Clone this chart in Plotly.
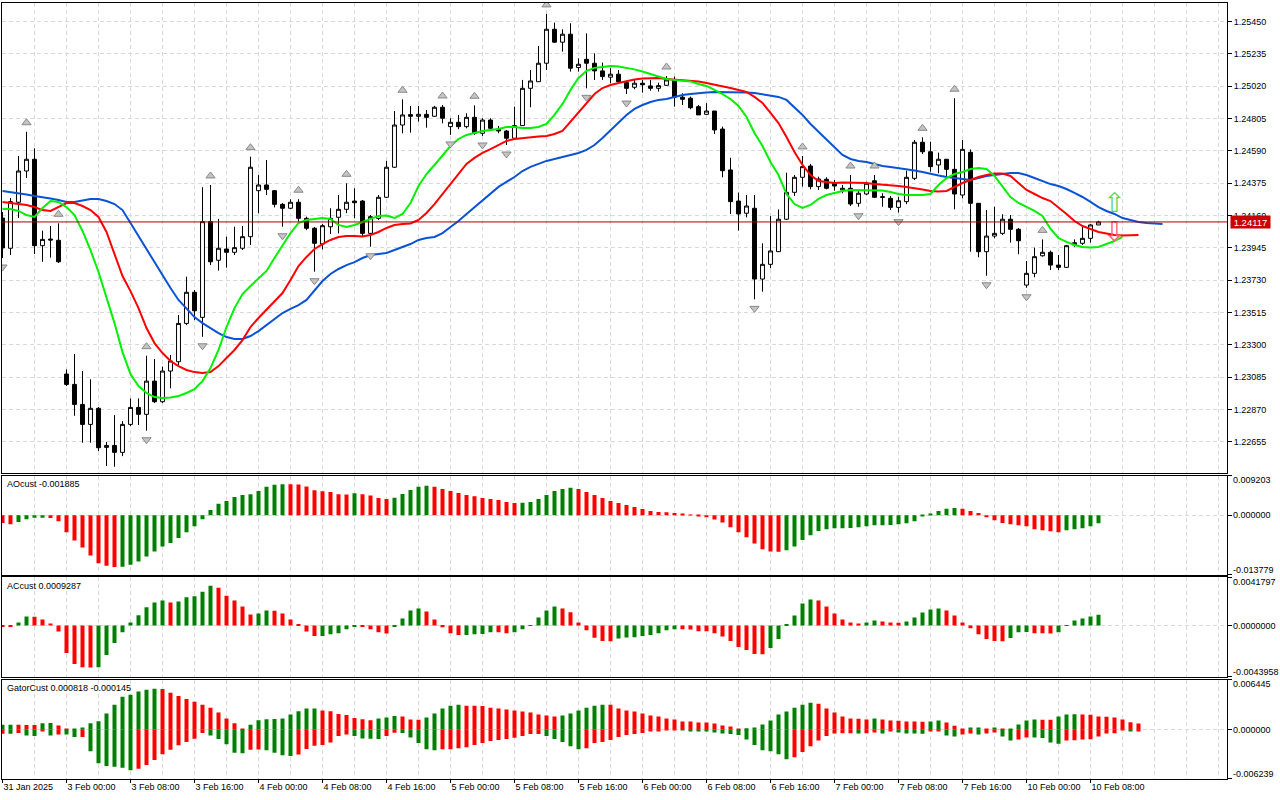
import plotly.graph_objects as go
from plotly.subplots import make_subplots

W, H = 1280, 800
FONT = "Liberation Sans"
GRID = "#d9d9d9"
GREEN = "#008000"
RED = "#ff0000"

# hourly candles, 31 Jan 2025 16:00 .. 10 Feb 2025 09:00
open_ = [
    1.24143, 1.23942, 1.24248, 1.24456, 1.24534, 1.23959, 1.24003, 1.23995, 1.23105, 1.23036,
    1.22903, 1.22770, 1.22877, 1.22617, 1.22630, 1.22584, 1.22770, 1.22883, 1.22837, 1.23058,
    1.22921, 1.23125, 1.23187, 1.23442, 1.23649, 1.23482, 1.24119, 1.23862, 1.23937, 1.23915,
    1.23942, 1.24019, 1.24325, 1.24363, 1.24325, 1.24234, 1.24208, 1.24248, 1.24141, 1.24075,
    1.23970, 1.24085, 1.24148, 1.24201, 1.24256, 1.24256, 1.24041, 1.24141, 1.24281, 1.24481,
    1.24762, 1.24831, 1.24820, 1.24833, 1.24820, 1.24880, 1.24751, 1.24780, 1.24751, 1.24813,
    1.24707, 1.24795, 1.24734, 1.24722, 1.24674, 1.24758, 1.25006, 1.25050, 1.25173, 1.25399,
    1.25313, 1.25366, 1.25144, 1.25199, 1.25173, 1.25122, 1.25080, 1.25100, 1.25044, 1.25013,
    1.25040, 1.25022, 1.25006, 1.25026, 1.25062, 1.24947, 1.24940, 1.24884, 1.24833, 1.24855,
    1.24735, 1.24463, 1.24256, 1.24175, 1.24208, 1.23737, 1.23835, 1.23919, 1.24135, 1.24314,
    1.24414, 1.24489, 1.24352, 1.24401, 1.24374, 1.24330, 1.24341, 1.24241, 1.24303, 1.24391,
    1.24285, 1.24274, 1.24214, 1.24252, 1.24407, 1.24647, 1.24584, 1.24496, 1.24534, 1.24467,
    1.24296, 1.24580, 1.24241, 1.23919, 1.24023, 1.24041, 1.24135, 1.24068, 1.23697, 1.23775,
    1.23892, 1.23915, 1.23830, 1.23815, 1.23964, 1.23975, 1.24008, 1.24097,
]
high_ = [
    1.24183, 1.24276, 1.24556, 1.24717, 1.24607, 1.24059, 1.24090, 1.24108, 1.23136, 1.23238,
    1.23125, 1.23070, 1.22885, 1.22654, 1.22832, 1.22792, 1.22943, 1.22943, 1.23227, 1.23205,
    1.23154, 1.23232, 1.23498, 1.23753, 1.23664, 1.24348, 1.24363, 1.24137, 1.24019, 1.24085,
    1.24090, 1.24551, 1.24429, 1.24529, 1.24330, 1.24243, 1.24268, 1.24268, 1.24152, 1.24083,
    1.24103, 1.24208, 1.24296, 1.24374, 1.24341, 1.24263, 1.24163, 1.24296, 1.24523, 1.24855,
    1.24933, 1.24889, 1.24889, 1.24862, 1.24889, 1.24895, 1.24807, 1.24829, 1.24840, 1.24893,
    1.24807, 1.24807, 1.24756, 1.24729, 1.24884, 1.25062, 1.25128, 1.25288, 1.25501, 1.25443,
    1.25399, 1.25439, 1.25206, 1.25372, 1.25239, 1.25177, 1.25140, 1.25128, 1.25057, 1.25062,
    1.25062, 1.25062, 1.25044, 1.25088, 1.25084, 1.24973, 1.24951, 1.24895, 1.24907, 1.24855,
    1.24751, 1.24544, 1.24312, 1.24296, 1.24296, 1.23975, 1.24157, 1.24201, 1.24445, 1.24429,
    1.24556, 1.24503, 1.24418, 1.24414, 1.24396, 1.24363, 1.24429, 1.24325, 1.24385, 1.24429,
    1.24308, 1.24290, 1.24285, 1.24458, 1.24662, 1.24680, 1.24651, 1.24578, 1.24536, 1.24940,
    1.24662, 1.24600, 1.24241, 1.24196, 1.24218, 1.24168, 1.24163, 1.24077, 1.23857, 1.23946,
    1.24001, 1.23926, 1.23897, 1.23964, 1.24001, 1.24085, 1.24103, 1.24125,
]
low_ = [
    1.23877, 1.23897, 1.24143, 1.24409, 1.23904, 1.23852, 1.23879, 1.23844, 1.23025, 1.22827,
    1.22648, 1.22648, 1.22593, 1.22493, 1.22488, 1.22559, 1.22759, 1.22766, 1.22728, 1.22912,
    1.22912, 1.23010, 1.23165, 1.23431, 1.23464, 1.23353, 1.23830, 1.23793, 1.23813, 1.23897,
    1.23930, 1.23964, 1.24175, 1.24296, 1.24214, 1.24085, 1.24203, 1.24119, 1.24063, 1.23786,
    1.23935, 1.24037, 1.24041, 1.24175, 1.24141, 1.24023, 1.23952, 1.24130, 1.24276, 1.24476,
    1.24707, 1.24711, 1.24784, 1.24744, 1.24817, 1.24773, 1.24696, 1.24734, 1.24740, 1.24696,
    1.24689, 1.24734, 1.24707, 1.24629, 1.24669, 1.24756, 1.24880, 1.25048, 1.25128, 1.25308,
    1.25250, 1.25117, 1.25117, 1.25006, 1.25062, 1.25062, 1.25040, 1.25044, 1.24968, 1.25000,
    1.24977, 1.24990, 1.24984, 1.25022, 1.24884, 1.24895, 1.24867, 1.24829, 1.24829, 1.24702,
    1.24414, 1.24170, 1.24059, 1.24148, 1.23602, 1.23653, 1.23809, 1.23917, 1.24130, 1.24290,
    1.24352, 1.24334, 1.24330, 1.24334, 1.24325, 1.24308, 1.24223, 1.24218, 1.24296, 1.24276,
    1.24218, 1.24196, 1.24179, 1.24236, 1.24396, 1.24569, 1.24451, 1.24441, 1.24414, 1.24201,
    1.24274, 1.23919, 1.23882, 1.23759, 1.24008, 1.24030, 1.23979, 1.23902, 1.23679, 1.23749,
    1.23886, 1.23797, 1.23797, 1.23811, 1.23952, 1.23964, 1.23979, 1.24097,
]
close_ = [
    1.23944, 1.24252, 1.24456, 1.24534, 1.23959, 1.24001, 1.23997, 1.23852, 1.23036, 1.22903,
    1.22770, 1.22877, 1.22615, 1.22630, 1.22584, 1.22770, 1.22883, 1.22837, 1.23058, 1.22921,
    1.23125, 1.23192, 1.23442, 1.23649, 1.23526, 1.24119, 1.23852, 1.23942, 1.23915, 1.23946,
    1.24019, 1.24481, 1.24363, 1.24334, 1.24234, 1.24208, 1.24248, 1.24141, 1.24075, 1.23975,
    1.24092, 1.24141, 1.24201, 1.24248, 1.24245, 1.24041, 1.24152, 1.24281, 1.24481, 1.24762,
    1.24829, 1.24820, 1.24833, 1.24813, 1.24880, 1.24807, 1.24780, 1.24751, 1.24813, 1.24707,
    1.24795, 1.24740, 1.24722, 1.24674, 1.24758, 1.25006, 1.25055, 1.25173, 1.25399, 1.25313,
    1.25366, 1.25140, 1.25166, 1.25173, 1.25122, 1.25084, 1.25100, 1.25050, 1.25006, 1.25040,
    1.25030, 1.25006, 1.25024, 1.25062, 1.24947, 1.24933, 1.24877, 1.24829, 1.24855, 1.24729,
    1.24458, 1.24252, 1.24170, 1.24223, 1.23737, 1.23835, 1.23924, 1.24135, 1.24314, 1.24414,
    1.24485, 1.24352, 1.24403, 1.24341, 1.24356, 1.24341, 1.24236, 1.24308, 1.24374, 1.24281,
    1.24281, 1.24214, 1.24258, 1.24414, 1.24647, 1.24584, 1.24485, 1.24534, 1.24467, 1.24303,
    1.24600, 1.24241, 1.23919, 1.24023, 1.24041, 1.24135, 1.24068, 1.23992, 1.23775, 1.23886,
    1.23915, 1.23830, 1.23815, 1.23959, 1.23979, 1.24008, 1.24097, 1.24117,
]

# alligator (already shifted forward: jaw 8, teeth 5, lips 3 bars)
jaw = [
    1.24323, 1.24316, 1.24310, 1.24300, 1.24290, 1.24283, 1.24273, 1.24263, 1.24250, 1.24250,
    1.24260, 1.24270, 1.24270, 1.24256, 1.24236, 1.24196, 1.24110, 1.24023, 1.23937, 1.23857,
    1.23771, 1.23677, 1.23598, 1.23538, 1.23484, 1.23444, 1.23411, 1.23378, 1.23351, 1.23338,
    1.23338, 1.23358, 1.23391, 1.23431, 1.23471, 1.23511, 1.23538, 1.23564, 1.23598, 1.23664,
    1.23724, 1.23771, 1.23804, 1.23830, 1.23850, 1.23877, 1.23897, 1.23904, 1.23910, 1.23930,
    1.23950, 1.23970, 1.23997, 1.24010, 1.24017, 1.24043, 1.24083, 1.24123, 1.24170, 1.24216,
    1.24263, 1.24303, 1.24350, 1.24383, 1.24416, 1.24456, 1.24483, 1.24503, 1.24523, 1.24536,
    1.24549, 1.24563, 1.24576, 1.24596, 1.24629, 1.24676, 1.24729, 1.24775, 1.24829, 1.24869,
    1.24895, 1.24915, 1.24929, 1.24935, 1.24949, 1.24962, 1.24968, 1.24975, 1.24978, 1.24982,
    1.24982, 1.24982, 1.24982, 1.24978, 1.24975, 1.24968, 1.24958, 1.24949, 1.24929, 1.24882,
    1.24829, 1.24769, 1.24716, 1.24662, 1.24609, 1.24563, 1.24536, 1.24523, 1.24516, 1.24503,
    1.24489, 1.24483, 1.24476, 1.24469, 1.24459, 1.24449, 1.24436, 1.24426, 1.24416, 1.24409,
    1.24403, 1.24396, 1.24409, 1.24423, 1.24429, 1.24436, 1.24443, 1.24443, 1.24429, 1.24409,
    1.24389, 1.24369, 1.24356, 1.24336, 1.24310, 1.24283, 1.24250, 1.24216, 1.24190, 1.24170,
    1.24143, 1.24130, 1.24117, 1.24110, 1.24107, 1.24103,
]
teeth = [
    1.24250, 1.24243, 1.24236, 1.24230, 1.24216, 1.24196, 1.24190, 1.24216, 1.24243, 1.24243,
    1.24223, 1.24196, 1.24150, 1.24050, 1.23904, 1.23757, 1.23657, 1.23544, 1.23411, 1.23311,
    1.23245, 1.23192, 1.23158, 1.23132, 1.23118, 1.23112, 1.23118, 1.23158, 1.23212, 1.23265,
    1.23331, 1.23418, 1.23478, 1.23531, 1.23584, 1.23644, 1.23731, 1.23824, 1.23884, 1.23937,
    1.23970, 1.23997, 1.24017, 1.24023, 1.24023, 1.24020, 1.24030, 1.24050, 1.24077, 1.24097,
    1.24103, 1.24107, 1.24130, 1.24177, 1.24236, 1.24303, 1.24369, 1.24436, 1.24503, 1.24543,
    1.24576, 1.24602, 1.24629, 1.24656, 1.24669, 1.24676, 1.24682, 1.24686, 1.24689, 1.24702,
    1.24722, 1.24782, 1.24842, 1.24909, 1.24968, 1.25008, 1.25028, 1.25042, 1.25055, 1.25065,
    1.25072, 1.25075, 1.25075, 1.25068, 1.25065, 1.25062, 1.25058, 1.25052, 1.25042, 1.25032,
    1.25022, 1.25008, 1.24995, 1.24982, 1.24949, 1.24909, 1.24842, 1.24775, 1.24682, 1.24582,
    1.24496, 1.24429, 1.24389, 1.24380, 1.24376, 1.24380, 1.24380, 1.24380, 1.24376, 1.24369,
    1.24366, 1.24363, 1.24356, 1.24350, 1.24343, 1.24333, 1.24323, 1.24320, 1.24323, 1.24350,
    1.24376, 1.24396, 1.24416, 1.24429, 1.24439, 1.24439, 1.24423, 1.24376, 1.24330, 1.24303,
    1.24276, 1.24256, 1.24216, 1.24170, 1.24123, 1.24090, 1.24070, 1.24050, 1.24040, 1.24030,
    1.24027, 1.24027, 1.24030,
]
lips = [
    1.24203, 1.24203, 1.24190, 1.24163, 1.24150, 1.24210, 1.24256, 1.24250, 1.24216, 1.24163,
    1.24057, 1.23930, 1.23784, 1.23618, 1.23444, 1.23251, 1.23105, 1.23025, 1.22979, 1.22952,
    1.22945, 1.22949, 1.22959, 1.22979, 1.23005, 1.23058, 1.23145, 1.23265, 1.23418, 1.23544,
    1.23637, 1.23691, 1.23744, 1.23791, 1.23877, 1.23964, 1.24043, 1.24110, 1.24130, 1.24137,
    1.24143, 1.24137, 1.24097, 1.24083, 1.24097, 1.24117, 1.24137, 1.24157, 1.24160, 1.24143,
    1.24170, 1.24243, 1.24356, 1.24436, 1.24496, 1.24563, 1.24622, 1.24669, 1.24696, 1.24709,
    1.24722, 1.24729, 1.24736, 1.24749, 1.24749, 1.24742, 1.24742, 1.24749, 1.24769, 1.24829,
    1.24902, 1.24995, 1.25075, 1.25122, 1.25142, 1.25148, 1.25155, 1.25151, 1.25142, 1.25132,
    1.25118, 1.25102, 1.25085, 1.25068, 1.25062, 1.25055, 1.25052, 1.25035, 1.25022, 1.24995,
    1.24968, 1.24935, 1.24889, 1.24815, 1.24709, 1.24622, 1.24516, 1.24429, 1.24303, 1.24236,
    1.24210, 1.24230, 1.24270, 1.24296, 1.24310, 1.24323, 1.24330, 1.24330, 1.24330, 1.24330,
    1.24326, 1.24316, 1.24303, 1.24296, 1.24296, 1.24296, 1.24303, 1.24363, 1.24409, 1.24436,
    1.24449, 1.24469, 1.24476, 1.24469, 1.24423, 1.24350, 1.24283, 1.24243, 1.24216, 1.24190,
    1.24157, 1.24070, 1.24010, 1.23984, 1.23964, 1.23950, 1.23947, 1.23950, 1.23970, 1.23990,
    1.24017,
]

fractal_up_bars = [3, 7, 18, 26, 31, 37, 43, 50, 55, 59, 68, 83, 100, 106, 109, 115, 119, 130]
fractal_down_bars = [0, 14, 18, 25, 35, 39, 46, 56, 60, 63, 73, 78, 94, 107, 112, 123, 128]

signal_bar = 139
buy_signal_price = 1.24226
sell_signal_price = 1.24037
last_price = 1.24117

ao = [
    -0.001798, -0.002111, -0.001563, -0.000938, -0.000625, -0.000600, -0.000640, -0.001407, -0.003987, -0.005863,
    -0.007504, -0.009380, -0.011178, -0.011726, -0.012038, -0.011960, -0.011491, -0.010787, -0.009615, -0.008442,
    -0.007270, -0.006488, -0.005316, -0.003987, -0.002580, -0.000938, 0.001173, 0.002658, 0.003283, 0.004221,
    0.004690, 0.004847, 0.005628, 0.006566, 0.007035, 0.007192, 0.007150, 0.007120, 0.006644, 0.005785,
    0.005550, 0.005394, 0.004847, 0.004800, 0.005081, 0.004847, 0.004534, 0.003987, 0.003752, 0.004065,
    0.004925, 0.005863, 0.006566, 0.006801, 0.006566, 0.006097, 0.005628, 0.005159, 0.004690, 0.004378,
    0.003987, 0.003752, 0.003518, 0.003049, 0.002814, 0.002850, 0.003049, 0.003752, 0.004690, 0.005628,
    0.006097, 0.006332, 0.006097, 0.005394, 0.004690, 0.003987, 0.003283, 0.002814, 0.002345, 0.001876,
    0.001407, 0.000938, 0.000704, 0.000680, 0.000469, 0.000235, 0.000078, -0.000235, -0.000469, -0.001016,
    -0.001720, -0.002814, -0.003987, -0.005159, -0.006566, -0.007895, -0.008442, -0.008480, -0.008130, -0.007270,
    -0.005785, -0.004690, -0.003674, -0.003283, -0.003049, -0.003030, -0.003010, -0.002814, -0.002580, -0.002345,
    -0.002330, -0.002310, -0.002111, -0.001876, -0.001407, -0.000313, 0.000235, 0.000938, 0.001485, 0.001642,
    0.001485, 0.000938, 0.000469, -0.000469, -0.001173, -0.001798, -0.002111, -0.002345, -0.002580, -0.003283,
    -0.003518, -0.003752, -0.003987, -0.003518, -0.003283, -0.003049, -0.002580, -0.001885,
]
ac = [
    -0.000060, -0.000086, 0.000257, 0.000772, 0.000760, 0.000515, 0.000172, -0.000515, -0.002374, -0.003318,
    -0.003604, -0.003620, -0.003600, -0.002545, -0.001516, -0.000572, 0.000257, 0.000887, 0.001573, 0.001973,
    0.002145, 0.001973, 0.002059, 0.002431, 0.002517, 0.002917, 0.003432, 0.003260, 0.002574, 0.002145,
    0.001630, 0.000944, 0.001030, 0.001287, 0.001270, 0.001030, 0.000515, 0.000057, -0.000515, -0.000915,
    -0.000900, -0.000744, -0.000658, -0.000315, -0.000057, -0.000070, -0.000315, -0.000572, -0.000686, -0.000057,
    0.000601, 0.001287, 0.001459, 0.001201, 0.000515, -0.000143, -0.000658, -0.000829, -0.000815, -0.000744,
    -0.000730, -0.000572, -0.000590, -0.000658, -0.000572, -0.000315, 0.000029, 0.000686, 0.001287, 0.001630,
    0.001459, 0.001144, 0.000257, -0.000400, -0.001058, -0.001344, -0.001360, -0.001115, -0.001030, -0.001015,
    -0.000915, -0.000829, -0.000658, -0.000400, -0.000315, -0.000330, -0.000345, -0.000486, -0.000500, -0.000658,
    -0.000944, -0.001344, -0.001859, -0.002116, -0.002460, -0.002470, -0.001945, -0.001173, 0.000086, 0.000858,
    0.001888, 0.002231, 0.002145, 0.001630, 0.001030, 0.000515, 0.000257, 0.000172, 0.000257, 0.000429,
    0.000343, 0.000257, 0.000240, 0.000343, 0.000686, 0.001115, 0.001373, 0.001459, 0.001287, 0.000858,
    0.000257, -0.000229, -0.000744, -0.001173, -0.001344, -0.001360, -0.001087, -0.000572, -0.000560, -0.000658,
    -0.000670, -0.000680, -0.000572, 0.000029, 0.000429, 0.000601, 0.000772, 0.000929,
]
gator_up = [
    0.000636, 0.000650, 0.000640, 0.000630, 0.000620, 0.000848, 0.000860, 0.000551, 0.000050, 0.000085,
    0.000297, 0.000848, 0.001102, 0.002078, 0.003222, 0.004240, 0.004494, 0.004918, 0.005130, 0.005258,
    0.005240, 0.004749, 0.004325, 0.003943, 0.003604, 0.003222, 0.002841, 0.002205, 0.001442, 0.000848,
    0.000085, 0.000636, 0.001230, 0.001357, 0.001370, 0.001442, 0.001950, 0.002374, 0.002714, 0.002730,
    0.002459, 0.002374, 0.002035, 0.001908, 0.001526, 0.001357, 0.001230, 0.001442, 0.001569, 0.001781,
    0.001696, 0.001314, 0.001300, 0.001569, 0.002078, 0.002714, 0.003095, 0.003222, 0.003095, 0.003080,
    0.003065, 0.002841, 0.002714, 0.002586, 0.002459, 0.002332, 0.002205, 0.001950, 0.001823, 0.001696,
    0.001823, 0.002078, 0.002459, 0.002841, 0.003095, 0.003222, 0.003210, 0.002714, 0.002459, 0.002332,
    0.002078, 0.001823, 0.001696, 0.001442, 0.001314, 0.001060, 0.001050, 0.000933, 0.000920, 0.000806,
    0.000551, 0.000424, 0.000170, 0.000190, 0.000297, 0.000678, 0.001187, 0.001950, 0.002332, 0.002841,
    0.003222, 0.003477, 0.003350, 0.002714, 0.002205, 0.001696, 0.001442, 0.001430, 0.001314, 0.001442,
    0.001314, 0.001187, 0.001170, 0.001060, 0.001050, 0.001040, 0.001060, 0.001187, 0.000933, 0.000509,
    0.000170, 0.000297, 0.000310, 0.000170, 0.000297, 0.000085, 0.000100, 0.000678, 0.001187, 0.001314,
    0.001300, 0.001290, 0.001696, 0.001950, 0.001993, 0.001950, 0.001940, 0.001696, 0.001680, 0.001569,
    0.001314, 0.000975, 0.000818,
]
gator_down = [
    -0.000509, -0.000520, -0.000424, -0.000721, -0.000806, -0.000170, -0.000721, -0.000594, -0.000610, -0.000933,
    -0.000920, -0.002756, -0.004282, -0.004622, -0.004749, -0.004876, -0.005173, -0.005003, -0.004494, -0.003858,
    -0.003138, -0.002544, -0.001993, -0.001569, -0.001145, -0.000424, -0.000721, -0.001187, -0.001866, -0.002926,
    -0.003010, -0.002544, -0.002530, -0.002629, -0.002926, -0.003265, -0.003350, -0.003180, -0.002459, -0.002035,
    -0.001950, -0.001611, -0.000806, -0.000594, -0.000806, -0.001102, -0.001145, -0.001187, -0.000806, -0.000380,
    -0.000424, -0.000975, -0.001696, -0.002502, -0.002629, -0.002502, -0.002490, -0.002374, -0.002247, -0.001950,
    -0.001696, -0.001442, -0.001314, -0.001187, -0.001018, -0.000806, -0.000551, -0.000540, -0.000806, -0.001187,
    -0.001569, -0.002120, -0.002502, -0.002374, -0.001696, -0.001569, -0.001314, -0.000933, -0.000678, -0.000551,
    -0.000424, -0.000170, -0.000160, -0.000085, -0.000042, -0.000085, -0.000095, -0.000127, -0.000212, -0.000339,
    -0.000466, -0.000551, -0.000678, -0.001230, -0.001950, -0.002629, -0.002756, -0.003138, -0.003774, -0.003519,
    -0.002841, -0.002120, -0.001357, -0.000806, -0.000466, -0.000455, -0.000445, -0.000466, -0.000455, -0.000339,
    -0.000466, -0.000212, -0.000339, -0.000466, -0.000480, -0.000494, -0.000212, -0.000200, -0.000721, -0.000848,
    -0.000594, -0.000466, -0.000594, -0.000466, -0.000339, -0.000848, -0.001357, -0.001230, -0.000975, -0.000990,
    -0.001060, -0.001611, -0.001781, -0.001357, -0.001340, -0.001230, -0.001220, -0.000848, -0.000466, -0.000455,
    -0.000085, -0.000160, -0.000145,
]

time_ticks = [0, 8, 16, 24, 32, 40, 48, 56, 64, 72, 80, 88, 96, 104, 112, 120, 128, 136]
time_labels = ["31 Jan 2025", "3 Feb 00:00", "3 Feb 08:00", "3 Feb 16:00", "4 Feb 00:00",
               "4 Feb 08:00", "4 Feb 16:00", "5 Feb 00:00", "5 Feb 08:00", "5 Feb 16:00",
               "6 Feb 00:00", "6 Feb 08:00", "6 Feb 16:00", "7 Feb 00:00", "7 Feb 08:00",
               "7 Feb 16:00", "10 Feb 00:00", "10 Feb 08:00"]
price_ticks = [1.22655, 1.22870, 1.23085, 1.23300, 1.23515, 1.23730, 1.23945,
               1.24160, 1.24375, 1.24590, 1.24805, 1.25020, 1.25235, 1.25450]

ao_range = [-0.013779, 0.009203]
ac_range = [-0.0043958, 0.0041797]
gator_range = [-0.006239, 0.006445]
price_range = [1.22450, 1.25577]


def xp(p):
    return p / W


def yp(p):
    return 1 - p / H


def hist_colors(values, first, by_size=False):
    colors = [first]
    for prev, cur in zip(values[:-1], values[1:]):
        up = abs(cur) > abs(prev) if by_size else cur > prev
        colors.append(GREEN if up else RED)
    return colors


bars = list(range(len(close_)))

fig = make_subplots(rows=4, cols=1, shared_xaxes=True, vertical_spacing=0)

fig.add_trace(go.Candlestick(
    x=bars, open=open_, high=high_, low=low_, close=close_,
    increasing=dict(line=dict(color="black", width=1), fillcolor="white"),
    decreasing=dict(line=dict(color="black", width=1), fillcolor="black"),
    whiskerwidth=0,
), row=1, col=1)

for series, color in [(jaw, "#0a52d6"), (teeth, "#ff0000"), (lips, "#00f000")]:
    fig.add_trace(go.Scatter(x=list(range(len(series))), y=series, mode="lines",
                             line=dict(color=color, width=2)), row=1, col=1)

fractal_marker = dict(size=8, color="#c4c4c4", line=dict(color="#888888", width=1))
fig.add_trace(go.Scatter(
    x=fractal_up_bars, y=[high_[i] + 0.0006 for i in fractal_up_bars], mode="markers",
    marker=dict(symbol="triangle-up", **fractal_marker),
), row=1, col=1)
fig.add_trace(go.Scatter(
    x=fractal_down_bars, y=[low_[i] - 0.0006 for i in fractal_down_bars], mode="markers",
    marker=dict(symbol="triangle-down", **fractal_marker),
), row=1, col=1)

fig.add_trace(go.Scatter(
    x=[signal_bar, signal_bar], y=[buy_signal_price, sell_signal_price], mode="text",
    text=["\u21e7", "\u21e9"], textposition="middle center",
    textfont=dict(family="DejaVu Sans", size=27, color=["#5fd35f", "#ff5c7c"]),
), row=1, col=1)

fig.add_trace(go.Bar(x=bars, y=ao, width=0.5, marker=dict(color=hist_colors(ao, RED), line=dict(width=0))),
              row=2, col=1)
fig.add_trace(go.Bar(x=bars, y=ac, width=0.5, marker=dict(color=hist_colors(ac, RED), line=dict(width=0))),
              row=3, col=1)
g_bars = list(range(len(gator_up)))
fig.add_trace(go.Bar(x=g_bars, y=gator_up, width=0.5,
                     marker=dict(color=hist_colors(gator_up, GREEN), line=dict(width=0))), row=4, col=1)
fig.add_trace(go.Bar(x=g_bars, y=gator_down, width=0.5,
                     marker=dict(color=hist_colors(gator_down, RED, by_size=True), line=dict(width=0))),
              row=4, col=1)

tick_font = dict(family=FONT, size=9, color="black")
x_domain = [xp(2), xp(1227)]
x_range = [-0.0625, 153.0625]
dash = "4px,3px"

for r in range(1, 5):
    fig.update_xaxes(
        row=r, col=1, domain=x_domain, range=x_range, tickvals=time_ticks,
        showgrid=True, gridcolor=GRID, griddash=dash, gridwidth=1, zeroline=False,
        showline=True, mirror=True, linecolor="black", linewidth=1,
        minor=dict(tickmode="linear", tick0=0, dtick=4, showgrid=True, gridcolor=GRID,
                   griddash=dash, gridwidth=1),
        showticklabels=(r == 4), ticks="outside" if r == 4 else "",
        ticklen=3, tickcolor="black",
    )
fig.update_xaxes(row=4, col=1, ticktext=time_labels, ticklabelposition="outside right",
                 tickangle=0, tickfont=tick_font)

panels = [
    (1, [yp(472.5), yp(2.5)], price_range),
    (2, [yp(574.5), yp(475.5)], ao_range),
    (3, [yp(676.5), yp(577)], ac_range),
    (4, [yp(778.5), yp(679.5)], gator_range),
]
for r, dom, rng in panels:
    fig.update_yaxes(
        row=r, col=1, domain=dom, range=rng, side="right",
        showgrid=True, gridcolor=GRID, griddash=dash, gridwidth=1, zeroline=False,
        showline=True, mirror=True, linecolor="black", linewidth=1,
        ticks="outside", ticklen=4, tickcolor="black", tickfont=tick_font,
    )
fig.update_yaxes(row=1, col=1, tickvals=price_ticks, ticktext=[f"{v:.5f}" for v in price_ticks])
for r, rng in [(2, ao_range), (3, ac_range), (4, gator_range)]:
    fig.update_yaxes(row=r, col=1, tickvals=[rng[0], 0, rng[1]], showticklabels=False)

annotations = []
for text, y in [("AOcust -0.001885", 484), ("ACcust 0.0009287", 586),
                ("GatorCust 0.000818 -0.000145", 688)]:
    annotations.append(dict(text=text, x=xp(5), y=yp(y), xref="paper", yref="paper",
                            xanchor="left", yanchor="middle", showarrow=False, font=tick_font))

axis_labels = [
    ("0.009203", 480), ("0.000000", 514.5), ("-0.013779", 569.5),
    ("0.0041797", 582), ("0.0000000", 625.5), ("-0.0043958", 671.5),
    ("0.006445", 684), ("0.000000", 729.5), ("-0.006239", 774),
]
for text, y in axis_labels:
    annotations.append(dict(text=text, x=xp(1231), y=yp(y), xref="paper", yref="paper",
                            xanchor="left", yanchor="middle", showarrow=False, font=tick_font))

annotations.append(dict(text=f"{last_price:.5f}", x=xp(1230), y=last_price, xref="paper", yref="y",
                        xanchor="left", yanchor="middle", showarrow=False, bgcolor="#c80000",
                        width=37, height=10, borderpad=1,
                        font=dict(family=FONT, size=9.5, color="white")))

fig.update_layout(
    width=W, height=H, margin=dict(l=0, r=0, t=0, b=0),
    paper_bgcolor="white", plot_bgcolor="white",
    showlegend=False, barmode="overlay", hovermode=False,
    font=dict(family=FONT, size=9, color="black"),
    xaxis_rangeslider_visible=False,
    annotations=annotations,
    shapes=[dict(type="line", xref="paper", yref="y", x0=xp(2), x1=xp(1227),
                 y0=last_price, y1=last_price, line=dict(color="#a80000", width=1))],
)

fig.write_html("out.html", config={"displayModeBar": False},
               post_script="document.body.style.margin = '0px';")
